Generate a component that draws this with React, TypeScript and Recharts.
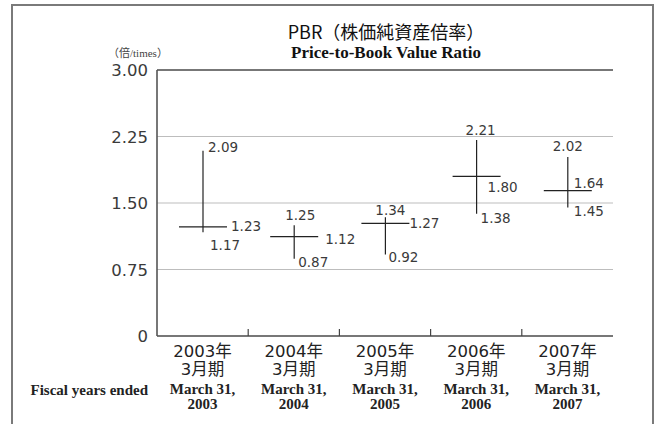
import React from 'react';
import { ComposedChart, Bar, XAxis, YAxis, CartesianGrid, ReferenceLine } from 'recharts';

const categories = ['2003', '2004', '2005', '2006', '2007'];
const jpYearLabels = ['2003年', '2004年', '2005年', '2006年', '2007年'];
const jpPeriodLabels = ['3月期', '3月期', '3月期', '3月期', '3月期'];
const enDateLabels = ['March 31,', 'March 31,', 'March 31,', 'March 31,', 'March 31,'];
const enYearLabels = ['2003', '2004', '2005', '2006', '2007'];
const highValues = [2.09, 1.25, 1.34, 2.21, 2.02];
const closeValues = [1.23, 1.12, 1.27, 1.8, 1.64];
const lowValues = [1.17, 0.87, 0.92, 1.38, 1.45];
const yTicks = [0, 0.75, 1.5, 2.25, 3];
const yTickLabels = ['0', '0.75', '1.50', '2.25', '3.00'];

// label placement offsets (style only)
const labelLayout = [
  { hx: 5, hy: -4, ha: 'start', cx: 4, cy: -1, cFromRight: true, lx: 7, ly: 13 },
  { hx: 6, hy: -10, ha: 'middle', cx: 7, cy: 2, cFromRight: true, lx: 4, ly: 3 },
  { hx: 5, hy: -7, ha: 'middle', cx: 0, cy: 0, cFromRight: true, lx: 3, ly: 3 },
  { hx: 4, hy: -10, ha: 'middle', cx: 11, cy: 11, cFromRight: false, lx: 4, ly: 4 },
  { hx: 0, hy: -11, ha: 'middle', cx: 6, cy: -8, cFromRight: false, lx: 6, ly: 4 },
];

const data = categories.map((c, i) => ({
  name: c,
  high: highValues[i],
  close: closeValues[i],
  low: lowValues[i],
  range: [lowValues[i], highValues[i]],
}));

const fmt = (v: number) => v.toFixed(2);
const LABEL_FONT = '"DejaVu Sans", sans-serif';
const SERIF = '"Liberation Serif", "DejaVu Serif", serif';
const TEXT_GRAY = '#3a3a3a';

const CrossShape = (props: any) => {
  const { x, y, width, height, payload, index } = props;
  if (x == null || y == null) return null;
  const top = Math.min(y, y + height);
  const bottom = Math.max(y, y + height);
  const span = payload.high - payload.low;
  const closeY = top + ((payload.high - payload.close) / span) * (bottom - top);
  const cxp = x + width / 2;
  const right = x + width;
  const L = labelLayout[index] || labelLayout[0];
  const base = 5;
  return (
    <g>
      <line x1={cxp} x2={cxp} y1={top} y2={bottom} stroke="#222" strokeWidth={1.2} />
      <line x1={x} x2={right} y1={closeY} y2={closeY} stroke="#222" strokeWidth={1.2} />
      <text x={cxp + L.hx} y={top + L.hy + base} textAnchor={L.ha} fontFamily={LABEL_FONT} fontSize={13.5} fill={TEXT_GRAY}>
        {fmt(payload.high)}
      </text>
      <text x={(L.cFromRight ? right : cxp) + L.cx} y={closeY + L.cy + base} textAnchor="start" fontFamily={LABEL_FONT} fontSize={13.5} fill={TEXT_GRAY}>
        {fmt(payload.close)}
      </text>
      <text x={cxp + L.lx} y={bottom + L.ly + base} textAnchor="start" fontFamily={LABEL_FONT} fontSize={13.5} fill={TEXT_GRAY}>
        {fmt(payload.low)}
      </text>
    </g>
  );
};

const XTick = (props: any) => {
  const { x, y, index, width, visibleTicksCount } = props;
  const band = width && visibleTicksCount ? width / visibleTicksCount : 0;
  return (
    <g>
      {index > 0 && band > 0 ? (
        <line x1={x - band / 2} x2={x - band / 2} y1={y} y2={y - 7} stroke="#444" strokeWidth={1.2} />
      ) : null}
      <text x={x} y={y + 21} textAnchor="middle" fontFamily={'"DejaVu Sans", "Noto Sans CJK JP", sans-serif'} fontSize={16.5} fill="#222">
        {jpYearLabels[index]}
      </text>
      <text x={x} y={y + 39} textAnchor="middle" fontFamily={'"DejaVu Sans", "Noto Sans CJK JP", sans-serif'} fontSize={16.5} fill="#222">
        {jpPeriodLabels[index]}
      </text>
      <text x={x} y={y + 58} textAnchor="middle" fontFamily={SERIF} fontWeight="bold" fontSize={15} fill="#222">
        {enDateLabels[index]}
      </text>
      <text x={x} y={y + 73} textAnchor="middle" fontFamily={SERIF} fontWeight="bold" fontSize={15} fill="#222">
        {enYearLabels[index]}
      </text>
    </g>
  );
};

const YTick = (props: any) => {
  const { x, y, payload } = props;
  const i = yTicks.indexOf(payload.value);
  return (
    <text x={x} y={y + 6} textAnchor="end" fontFamily={LABEL_FONT} fontSize={16.5} fill={TEXT_GRAY}>
      {i >= 0 ? yTickLabels[i] : payload.value}
    </text>
  );
};

export default function App() {
  return (
    <div style={{ position: 'fixed', left: 0, top: 0, width: 658, height: 424, background: '#fff', overflow: 'hidden' }}>
      <div
        style={{
          position: 'absolute',
          left: 11,
          top: 4,
          width: 639,
          height: 440,
          border: '2px solid #7a7a7a',
          borderBottom: 'none',
        }}
      />
      <ComposedChart
        width={658}
        height={424}
        data={data}
        margin={{ top: 70, right: 45, bottom: 0, left: 97 }}
        style={{ position: 'absolute', left: 0, top: 0 }}
      >
        <CartesianGrid horizontal vertical={false} stroke="#bdbdbd" strokeWidth={1.2} />
        <XAxis
          dataKey="name"
          height={88}
          axisLine={{ stroke: '#555', strokeWidth: 1.6 }}
          tickLine={false}
          tickSize={0}
          tickMargin={0}
          interval={0}
          tick={<XTick />}
        />
        <YAxis
          domain={[0, 3]}
          ticks={yTicks}
          width={60}
          axisLine={{ stroke: '#555', strokeWidth: 1.6 }}
          tickLine={false}
          tickSize={0}
          tickMargin={9}
          tick={<YTick />}
          interval={0}
        />
        <YAxis
          yAxisId="r"
          orientation="right"
          domain={[0, 3]}
          ticks={yTicks}
          width={0}
          axisLine={{ stroke: '#555', strokeWidth: 1.6 }}
          tickLine={false}
          tick={false}
        />
        <ReferenceLine y={3} stroke="#555" strokeWidth={1.6} />
        <Bar dataKey="range" barSize={48} shape={<CrossShape />} isAnimationActive={false} />
      </ComposedChart>
      <div
        style={{
          position: 'absolute',
          left: 0,
          width: 772,
          top: 21,
          textAlign: 'center',
          fontFamily: '"Noto Sans CJK JP", sans-serif',
          fontSize: 18,
          lineHeight: '20px',
          height: 20,
          color: '#111',
        }}
      >
        PBR（株価純資産倍率）
      </div>
      <div
        style={{
          position: 'absolute',
          left: 0,
          width: 772,
          top: 44,
          textAlign: 'center',
          fontFamily: SERIF,
          fontWeight: 'bold',
          fontSize: 17,
          lineHeight: '17px',
          height: 17,
          color: '#111',
        }}
      >
        Price-to-Book Value Ratio
      </div>
      <div
        style={{
          position: 'absolute',
          left: 108,
          top: 46,
          fontFamily: '"Liberation Serif", "Noto Sans CJK JP", serif',
          fontSize: 11,
          lineHeight: '14px',
          color: '#444',
          whiteSpace: 'nowrap',
        }}
      >
        （倍/times）
      </div>
      <div
        style={{
          position: 'absolute',
          right: 658 - 148,
          top: 381,
          fontFamily: SERIF,
          fontWeight: 'bold',
          fontSize: 15,
          lineHeight: '18px',
          color: '#222',
          whiteSpace: 'nowrap',
        }}
      >
        Fiscal years ended
      </div>
    </div>
  );
}
